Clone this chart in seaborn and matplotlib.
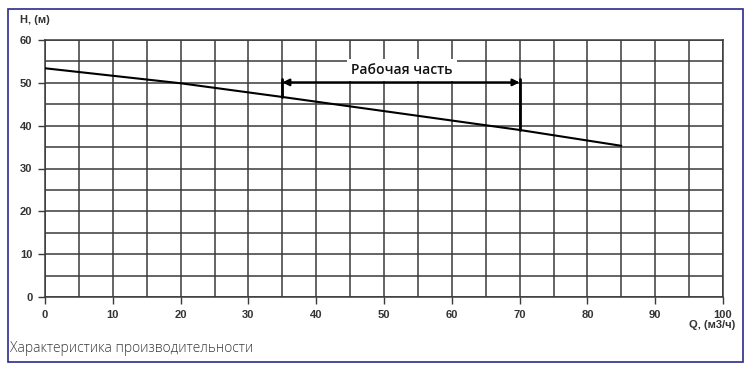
import matplotlib
matplotlib.use("Agg")
import matplotlib.pyplot as plt
import seaborn as sns
import pandas as pd
from matplotlib.patches import Rectangle

# Data
q_values = [0, 20, 35, 40, 70, 85]
h_values = [53.4, 49.9, 46.7, 45.6, 39.0, 35.3]
x_ticks = [0, 10, 20, 30, 40, 50, 60, 70, 80, 90, 100]
y_ticks = [0, 10, 20, 30, 40, 50, 60]
work_range = [35, 70]
work_label = "Рабочая часть"
x_label = "Q, (м3/ч)"
y_label = "H, (м)"
caption = "Характеристика производительности"

sns.set_theme(style="white")
plt.rcParams['font.family'] = ['Liberation Sans', 'DejaVu Sans']

fig = plt.figure(figsize=(7.5, 3.69), dpi=100)
ax = fig.add_axes([45/750, 1-297/369, (723-45)/750, (297-40)/369])

df = pd.DataFrame({"Q": q_values, "H": h_values})
sns.lineplot(data=df, x="Q", y="H", ax=ax, color="black", linewidth=1.5, zorder=3)

ax.set_xlim(0, 100)
ax.set_ylim(0, 60)
ax.set_xticks(x_ticks)
ax.set_yticks(y_ticks)
ax.set_xticks(range(0, 101, 5), minor=True)
ax.set_yticks(range(0, 61, 5), minor=True)
ax.grid(True, which="both", color="#3a3a3a", linewidth=1.1)
ax.set_axisbelow(True)
for s in ax.spines.values():
    s.set_color("#3a3a3a")
    s.set_linewidth(1.1)
ax.tick_params(axis="both", which="major", direction="out", length=5, width=1,
               color="#3a3a3a", labelsize=8, labelcolor="#333333", pad=4,
               bottom=True, left=True)
ax.tick_params(axis="both", which="minor", length=0)
for lab in ax.get_xticklabels() + ax.get_yticklabels():
    lab.set_fontweight("bold")
ax.set_xlabel("")
ax.set_ylabel("")

# Working range arrow and markers
ax.annotate("", xy=(work_range[0], 50.1), xytext=(work_range[1], 50.1),
            arrowprops=dict(arrowstyle="<|-|>", color="black", lw=1.6,
                            mutation_scale=10, shrinkA=0, shrinkB=0), zorder=4)
ax.plot([work_range[0], work_range[0]], [51.0, 46.7], color="black", lw=2, zorder=4)
ax.plot([work_range[1], work_range[1]], [51.0, 39.0], color="black", lw=2, zorder=4)
ax.text(52.6, 53.0, work_label, ha="center", va="center", fontsize=10,
        color="#111111", family=["Open Sans", "DejaVu Sans"], fontweight="semibold",
        bbox=dict(facecolor="white", edgecolor="none", pad=3), zorder=5)

fig.text(20/750, 1-20/369, y_label, ha="left", va="center", fontsize=8,
         fontweight="bold", color="#333333")
fig.text(735/750, 1-325/369, x_label, ha="right", va="center", fontsize=8,
         fontweight="bold", color="#333333")
fig.text(10/750, 1-348/369, caption, ha="left", va="center", fontsize=10,
         color="#3a3a3a", family=["Open Sans", "DejaVu Sans"], fontweight="light")

fig.patches.append(Rectangle((8/750, 1-362/369), 735/750, 353/369,
                             transform=fig.transFigure, fill=False,
                             edgecolor="#2b2b8c", linewidth=1.2))

fig.savefig("out.png", dpi=100)
